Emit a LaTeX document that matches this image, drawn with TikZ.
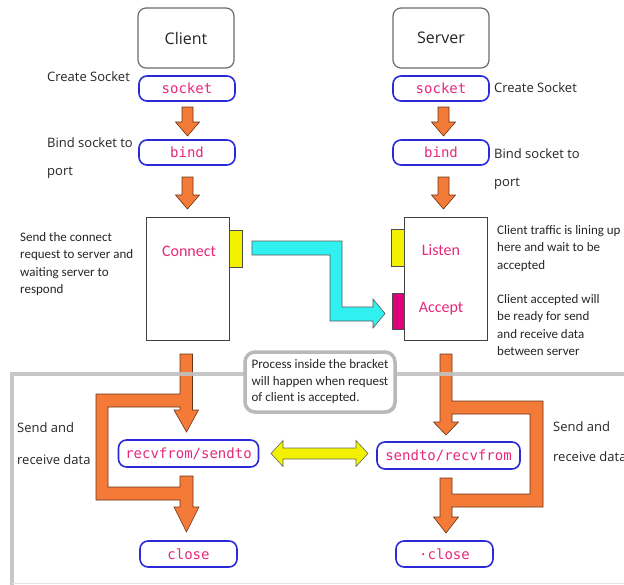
\documentclass[tikz,border=0pt]{standalone}
\usepackage{fontspec}
\setmainfont{Open Sans}
\newfontfamily\descfont{Carlito}
\newfontfamily\codefont{DejaVu Sans Mono}
\usetikzlibrary{calc,shadows}
\definecolor{borange}{HTML}{F47A38}
\definecolor{bedge}{HTML}{6A3418}
\definecolor{bblue}{HTML}{2A2AD8}
\definecolor{bmag}{HTML}{E8287C}
\definecolor{bcyan}{HTML}{30F0F0}
\definecolor{byel}{HTML}{F2F200}
\definecolor{btab}{HTML}{E0007A}
\definecolor{bgray}{HTML}{C2C2C2}
\definecolor{btext}{HTML}{262626}
\newcommand\dnarrow[3]{%
  \filldraw[blk] (#1-5.5,#2) -- (#1+5.5,#2) -- (#1+5.5,#3-14) -- (#1+12,#3-14) -- (#1,#3) -- (#1-12,#3-14) -- (#1-5.5,#3-14) -- cycle;}
\begin{document}
\begin{tikzpicture}[x=1pt,y=-1pt,
  titlebox/.style={draw=gray!85!black, line width=1.2pt, rounded corners=8pt, minimum width=96pt, minimum height=60pt, inner sep=0, font=\fontsize{16}{18}\selectfont, text=btext, fill=white},
  func/.style={draw=bblue, line width=1.6pt, rounded corners=8pt, minimum height=25pt, inner sep=0, text=bmag, fill=white, font=\codefont\fontsize{14}{16}\selectfont},
  lbl/.style={inner sep=0, anchor=west, font=\fontsize{13}{15}\selectfont, text=btext},
  desc/.style={inner sep=0, anchor=north west, align=left, font=\descfont\fontsize{13}{17.5}\selectfont, text=btext},
  stage/.style={draw=black!75, line width=0.8pt, minimum width=83pt, minimum height=123pt, inner sep=0, fill=white},
  stagetext/.style={inner sep=0, text=bmag, font=\descfont\fontsize{16}{18}\selectfont},
  tab/.style={draw=black!70, line width=0.6pt, minimum width=13pt, minimum height=37pt, inner sep=0},
  blk/.style={fill=borange, draw=bedge, line width=0.6pt},
  callout/.style={draw=gray!55, line width=3.5pt, rounded corners=10pt, fill=white, minimum width=150pt, minimum height=60pt, inner sep=0, align=left, font=\descfont\fontsize{13}{16.5}\selectfont, text=btext, drop shadow={shadow xshift=1.5pt, shadow yshift=-1.5pt, fill=gray!45, opacity=1}}]
\useasboundingbox (0,0) rectangle (624,584);
\fill[white] (0,0) rectangle (624,584);

% title boxes
\node[titlebox] (client) at (186,38) {Client};
\node[titlebox] (server) at (441,38) {Server};

% function boxes
\node[func, minimum width=96pt] (csock) at (187,88.5) {socket};
\node[func, minimum width=96pt] (cbind) at (187,152.5) {bind};
\node[func, minimum width=96pt] (ssock) at (441,88.5) {socket};
\node[func, minimum width=96pt] (sbind) at (441,152.5) {bind};

% top block arrows
\dnarrow{187.5}{107}{136}
\dnarrow{187.5}{177}{209}
\dnarrow{443.5}{107}{136}
\dnarrow{443.5}{177}{209}

% labels
\node[lbl] (l1) at (47,77) {Create Socket};
\node[lbl] (l2) at (47,143) {Bind socket to};
\node[lbl] (l3) at (47,173) {port};
\node[lbl] (r1) at (494,88) {Create Socket};
\node[lbl] (r2) at (494,154) {Bind socket to};
\node[lbl] (r3) at (494,184) {port};

% connect / listen-accept stages
\node[stage] (cstage) at (187.5,278.5) {};
\node[stagetext] (ctext) at (189,251) {Connect};
\node[tab, fill=byel] (ctab) at (235.5,248.5) {};
\node[stage] (sstage) at (445.5,278.5) {};
\node[stagetext] (ltext) at (441,250) {Listen};
\node[stagetext] (atext) at (441,309) {Accept};
\node[tab, fill=byel] (ltab) at (397.5,248) {};
\node[tab, fill=btab, minimum width=12pt, minimum height=36pt] (atab) at (398,311) {};

% cyan arrow
\filldraw[fill=bcyan, draw=black!65, line width=0.6pt]
  (252,241) -- (342,241) -- (342,307) -- (373,307) -- (373,299) -- (385,313.5)
  -- (373,328) -- (373,321) -- (330,321) -- (330,255) -- (252,255) -- cycle;

% descriptions
\node[desc] (d1) at (20,232) {Send the connect\\request to server and\\waiting server to\\respond};
\node[desc] (d2) at (497,225) {Client traffic is lining up\\here and wait to be\\accepted};
\node[desc] (d3) at (497,294) {Client accepted will\\be ready for send\\and receive data\\between server};

% lower function boxes
\node[func, minimum width=140pt, minimum height=27pt] (recv) at (188.5,453.5) {recvfrom/sendto};
\node[func, minimum width=143pt, minimum height=27pt] (send) at (448.5,455.5) {sendto/recvfrom};
\node[func, minimum width=97pt, minimum height=26pt] (cclose) at (188.5,554) {close};
\node[func, minimum width=97pt, minimum height=26pt] (sclose) at (444.5,554) {\textperiodcentered close};

% left orange bracket
\filldraw[blk] (180,354) -- (192.5,354) -- (192.5,410) -- (198.5,410) -- (186.5,432) -- (174,410)
  -- (180,410) -- (180,407) -- (108,407) -- (108,487) -- (180,487) -- (180,476) -- (193,476)
  -- (193,507) -- (199,507) -- (186.5,532) -- (174,507) -- (180,507) -- (180,500) -- (96,500)
  -- (96,394) -- (180,394) -- cycle;
% right orange bracket
\filldraw[blk] (440,354) -- (452,354) -- (452,401) -- (543,401) -- (543,507) -- (452,507)
  -- (452,517) -- (458.5,517) -- (446,533) -- (433.5,517) -- (440,517) -- (440,478) -- (452,478)
  -- (452,494) -- (530,494) -- (530,414) -- (452,414) -- (452,422) -- (458.5,422) -- (446,435)
  -- (433.5,422) -- (440,422) -- cycle;

% yellow double arrow
\filldraw[fill=byel, draw=black!60, line width=0.6pt]
  (271,453.5) -- (283,440.5) -- (283,448) -- (356,448) -- (356,440.5) -- (368,453.5)
  -- (356,466.5) -- (356,459) -- (283,459) -- (283,466.5) -- cycle;

% bracket frame
\draw[bgray, line width=4pt, opacity=0.9] (12,600) -- (12,374) -- (640,374);
\draw[gray!20, line width=1pt] (12,583) -- (640,583);

% side labels
\node[lbl] (s1) at (17,428) {Send and};
\node[lbl] (s2) at (17,460) {receive data};
\node[lbl] (s3) at (553,427) {Send and};
\node[lbl] (s4) at (553,457) {receive data};

% callout
\node[callout] (note) at (320,382) {Process inside the bracket\\will happen when request\\of client is accepted.};
\end{tikzpicture}
\end{document}
